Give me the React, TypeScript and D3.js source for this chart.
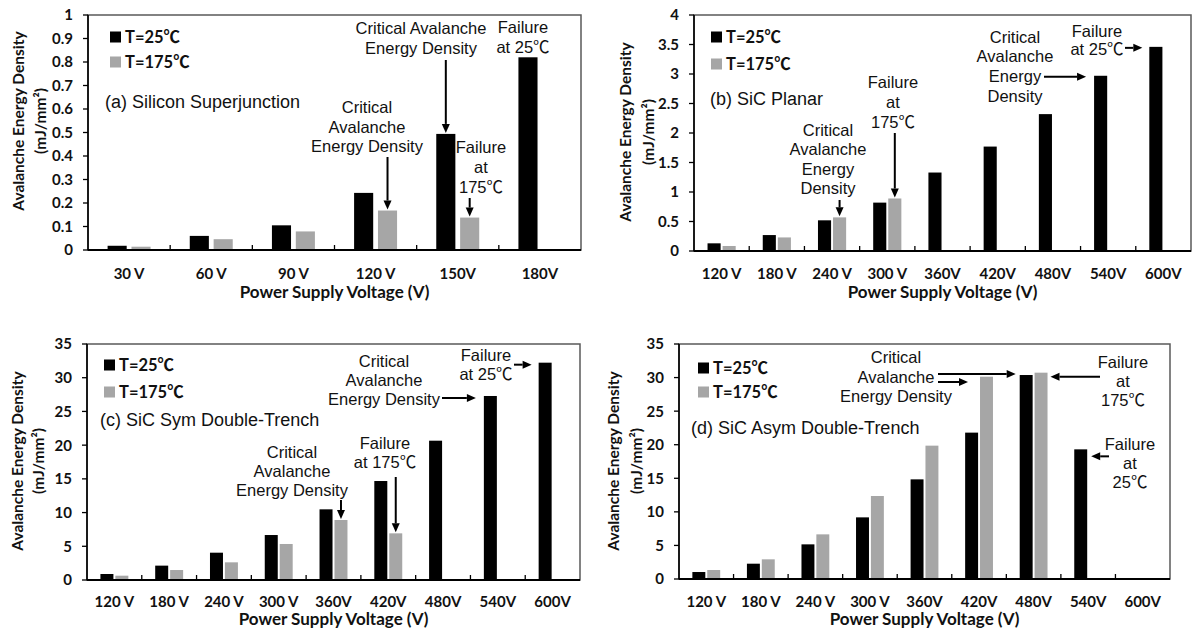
import React from 'react';
import * as d3 from 'd3';

// categories
const catsSi = ['30 V', '60 V', '90 V', '120 V', '150V', '180V'];
const catsSiC = ['120 V', '180 V', '240 V', '300 V', '360V', '420V', '480V', '540V', '600V'];

// (a) Silicon Superjunction, mJ/mm2
const siT25 = [0.018, 0.06, 0.105, 0.243, 0.494, 0.82];
const siT175 = [0.014, 0.046, 0.079, 0.168, 0.138, null];
// (b) SiC Planar
const planarT25 = [0.13, 0.27, 0.52, 0.82, 1.33, 1.77, 2.32, 2.97, 3.46];
const planarT175 = [0.085, 0.23, 0.57, 0.89, null, null, null, null, null];
// (c) SiC Sym Double-Trench
const symT25 = [0.89, 2.13, 4.05, 6.67, 10.48, 14.68, 20.66, 27.29, 32.23];
const symT175 = [0.64, 1.48, 2.62, 5.34, 8.9, 6.92, null, null, null];
// (d) SiC Asym Double-Trench
const asymT25 = [1.04, 2.28, 5.16, 9.18, 14.84, 21.8, 30.38, 19.31, null];
const asymT175 = [1.34, 2.93, 6.65, 12.36, 19.86, 30.13, 30.73, null, null];

// y tick labels
const ticksSi = [0, 0.1, 0.2, 0.3, 0.4, 0.5, 0.6, 0.7, 0.8, 0.9, 1];
const ticksPlanar = [0, 0.5, 1, 1.5, 2, 2.5, 3, 3.5, 4];
const ticksTrench = [0, 5, 10, 15, 20, 25, 30, 35];

const seriesNames = ['T=25℃', 'T=175℃'];
const colors = ['#000000', '#a6a6a6'];

const tickFont = "Lato, 'Noto Sans CJK SC', sans-serif";
const noteFont = "'Liberation Sans', Arial, 'Noto Sans CJK SC', sans-serif";

function Arrow({ x1, y1, x2, y2 }) {
    const ang = Math.atan2(y2 - y1, x2 - x1);
    const L = 9, W = 4;
    const bx = x2 - L * Math.cos(ang), by = y2 - L * Math.sin(ang);
    const px = -Math.sin(ang) * W, py = Math.cos(ang) * W;
    return (
        <g>
            <line x1={x1} y1={y1} x2={bx} y2={by} stroke="#000" strokeWidth={2} />
            <path d={`M${x2},${y2}L${bx + px},${by + py}L${bx - px},${by - py}Z`} fill="#000" />
        </g>
    );
}

function Note({ lines, cx, ys, size = 16.5 }) {
    return (
        <g>
            {lines.map((t, i) => (
                <text key={i} x={cx} y={ys[i]} dy="0.35em" textAnchor="middle"
                    fontFamily={noteFont} fontSize={size} fill="#111">{t}</text>
            ))}
        </g>
    );
}

function Panel({ cfg }) {
    const { cats, s25, s175, left, right, top, zero, max, ticks } = cfg;
    const x = d3.scaleBand().domain(cats).range([left, right]).padding(0);
    const groupW = x.bandwidth() * cfg.groupFrac;
    const sub = d3.scaleBand().domain(['t25', 't175']).range([0, groupW]).paddingInner(cfg.gap);
    const y = d3.scaleLinear().domain([0, max]).range([zero, top]);

    const bar = (i, s) => {
        const l = x(cats[i]) + (x.bandwidth() - groupW) / 2 + sub(s);
        const v = s === 't25' ? s25[i] : s175[i];
        return { l, r: l + sub.bandwidth(), cx: l + sub.bandwidth() / 2, top: y(v || 0) };
    };

    const fmt = (t) => String(t);

    return (
        <g>
            {/* frame */}
            <rect x={left} y={top} width={right - left} height={zero - top}
                fill="none" stroke="#595959" strokeWidth={1.5} />

            {/* bars */}
            {cats.map((c, i) => (
                <g key={c}>
                    {s25[i] != null && (
                        <rect x={bar(i, 't25').l} y={y(s25[i])} width={sub.bandwidth()}
                            height={zero - y(s25[i])} fill={colors[0]} />
                    )}
                    {s175[i] != null && (
                        <rect x={bar(i, 't175').l} y={y(s175[i])} width={sub.bandwidth()}
                            height={zero - y(s175[i])} fill={colors[1]} />
                    )}
                </g>
            ))}

            {/* axes */}
            <line x1={left} x2={left} y1={top} y2={zero} stroke="#000" strokeWidth={1.6} />
            <line x1={left} x2={right} y1={zero} y2={zero} stroke="#000" strokeWidth={1.8} />
            {ticks.map(t => (
                <g key={t}>
                    <line x1={left - 5} x2={left} y1={y(t)} y2={y(t)} stroke="#000" strokeWidth={1.3} />
                    <text x={left - 15} y={y(t)} dy="0.36em" textAnchor="end" fontFamily={tickFont}
                        fontWeight="bold" fontSize={15} fill="#111">{fmt(t)}</text>
                </g>
            ))}
            {cats.slice(1).map(c => (
                <line key={c} x1={x(c)} x2={x(c)} y1={zero} y2={zero - 5} stroke="#000" strokeWidth={1.3} />
            ))}
            {cats.map(c => (
                <text key={c} x={x(c) + x.bandwidth() / 2} y={cfg.catY} dy="0.36em" textAnchor="middle"
                    fontFamily={tickFont} fontWeight="bold" fontSize={15} fill="#111">{c}</text>
            ))}
            <text x={(left + right) / 2} y={cfg.titleY} dy="0.36em" textAnchor="middle"
                fontFamily={tickFont} fontWeight="bold" fontSize={17} fill="#111">
                Power Supply Voltage (V)
            </text>
            <g transform={`translate(${cfg.ylabX[0]},${cfg.ylabY}) rotate(-90)`}>
                <text dy="0.36em" textAnchor="middle" fontFamily={tickFont} fontWeight="bold" fontSize={15.5} fill="#111">
                    Avalanche Energy Density
                </text>
            </g>
            <g transform={`translate(${cfg.ylabX[1]},${cfg.ylabY}) rotate(-90)`}>
                <text dy="0.36em" textAnchor="middle" fontFamily={tickFont} fontWeight="bold" fontSize={15.5} fill="#111">
                    (mJ/mm²)
                </text>
            </g>

            {/* legend */}
            {seriesNames.map((n, i) => (
                <g key={n}>
                    <rect x={cfg.legX} y={cfg.legY[i] - 5.5} width={11} height={11} fill={colors[i]} />
                    <text x={cfg.legX + 15} y={cfg.legY[i]} dy="0.36em" fontFamily={tickFont}
                        fontWeight="bold" fontSize={16.5} fill="#111">{n}</text>
                </g>
            ))}
            <text x={cfg.nameX} y={cfg.nameY} dy="0.36em" fontFamily={noteFont} fontSize={18} fill="#111">
                {cfg.name}
            </text>

            {cfg.notes(bar, y)}
        </g>
    );
}

const panels = [
    {
        name: '(a) Silicon Superjunction', cats: catsSi, s25: siT25, s175: siT175, ticks: ticksSi, max: 1,
        left: 88, right: 581, top: 15, zero: 250, groupFrac: 0.523, gap: 0.2,
        catY: 274, titleY: 292, ylabX: [18, 40], ylabY: 121, legX: 110, legY: [37, 62],
        nameX: 105, nameY: 102,
        notes: (bar) => (
            <g>
                <Note lines={['Critical', 'Avalanche', 'Energy Density']} cx={367} ys={[107, 127, 146]} />
                <Arrow x1={bar(3, 't175').cx} y1={157} x2={bar(3, 't175').cx} y2={bar(3, 't175').top - 1} />
                <Note lines={['Critical Avalanche', 'Energy Density']} cx={421} ys={[28, 48]} />
                <Arrow x1={bar(4, 't25').cx} y1={60} x2={bar(4, 't25').cx} y2={bar(4, 't25').top - 1} />
                <Note lines={['Failure', 'at', '175℃']} cx={481} ys={[147, 167, 187]} />
                <Arrow x1={bar(4, 't175').cx} y1={198} x2={bar(4, 't175').cx} y2={bar(4, 't175').top - 1} />
                <Note lines={['Failure', 'at 25℃']} cx={523} ys={[27, 47]} />
            </g>
        ),
    },
    {
        name: '(b) SiC Planar', cats: catsSiC, s25: planarT25, s175: planarT175, ticks: ticksPlanar, max: 4,
        left: 694, right: 1191, top: 15, zero: 251, groupFrac: 0.51, gap: 0.13,
        catY: 274, titleY: 292, ylabX: [625, 648], ylabY: 132, legX: 711, legY: [37, 64],
        nameX: 710, nameY: 99,
        notes: (bar) => (
            <g>
                <Note lines={['Critical', 'Avalanche', 'Energy', 'Density']} cx={828} ys={[130, 149, 169, 188]} />
                <Arrow x1={bar(2, 't175').cx} y1={200} x2={bar(2, 't175').cx} y2={bar(2, 't175').top - 1} />
                <Note lines={['Failure', 'at', '175℃']} cx={893} ys={[82, 102, 122]} />
                <Arrow x1={bar(3, 't175').cx} y1={133} x2={bar(3, 't175').cx} y2={bar(3, 't175').top - 1} />
                <Note lines={['Critical', 'Avalanche', 'Energy', 'Density']} cx={1015} ys={[37, 56, 76, 96]} />
                <Arrow x1={1044} y1={bar(7, 't25').top + 1} x2={bar(7, 't25').l - 8} y2={bar(7, 't25').top + 1} />
                <Note lines={['Failure', 'at 25℃']} cx={1097} ys={[31, 49]} />
                <Arrow x1={1125} y1={bar(8, 't25').top + 1} x2={bar(8, 't25').l - 7} y2={bar(8, 't25').top + 1} />
            </g>
        ),
    },
    {
        name: '(c) SiC Sym Double-Trench', cats: catsSiC, s25: symT25, s175: symT175, ticks: ticksTrench, max: 35,
        left: 87, right: 580, top: 344, zero: 580, groupFrac: 0.51, gap: 0.13,
        catY: 602, titleY: 619, ylabX: [17, 38], ylabY: 461, legX: 104, legY: [365, 392],
        nameX: 100, nameY: 420,
        notes: (bar) => (
            <g>
                <Note lines={['Critical', 'Avalanche', 'Energy Density']} cx={292} ys={[452, 471, 490]} />
                <Arrow x1={bar(4, 't175').cx} y1={500} x2={bar(4, 't175').cx} y2={bar(4, 't175').top - 1} />
                <Note lines={['Failure', 'at 175℃']} cx={385} ys={[443, 462]} />
                <Arrow x1={bar(5, 't175').cx} y1={477} x2={bar(5, 't175').cx} y2={bar(5, 't175').top - 1} />
                <Note lines={['Critical', 'Avalanche', 'Energy Density']} cx={384} ys={[361, 380, 399]} />
                <Arrow x1={442} y1={bar(7, 't25').top + 2} x2={bar(7, 't25').l - 8} y2={bar(7, 't25').top + 2} />
                <Note lines={['Failure', 'at 25℃']} cx={486} ys={[355, 374]} />
                <Arrow x1={514} y1={bar(8, 't25').top + 2} x2={bar(8, 't25').l - 7} y2={bar(8, 't25').top + 2} />
            </g>
        ),
    },
    {
        name: '(d) SiC Asym Double-Trench', cats: catsSiC, s25: asymT25, s175: asymT175, ticks: ticksTrench, max: 35,
        left: 679, right: 1170, top: 344, zero: 579, groupFrac: 0.51, gap: 0.13,
        catY: 602, titleY: 619, ylabX: [613, 636], ylabY: 461, legX: 698, legY: [368, 392],
        nameX: 691, nameY: 428,
        notes: (bar) => (
            <g>
                <Note lines={['Critical', 'Avalanche', 'Energy Density']} cx={896} ys={[357, 377, 396]} />
                <Arrow x1={938} y1={bar(6, 't25').top - 1} x2={bar(6, 't25').l - 4} y2={bar(6, 't25').top - 1} />
                <Arrow x1={938} y1={382} x2={bar(5, 't175').l - 12} y2={382} />
                <Note lines={['Failure', 'at', '175℃']} cx={1123} ys={[362, 381, 400]} />
                <Arrow x1={1100} y1={bar(6, 't175').top + 4} x2={bar(6, 't175').r + 3} y2={bar(6, 't175').top + 4} />
                <Note lines={['Failure', 'at', '25℃']} cx={1130} ys={[444, 463, 482]} />
                <Arrow x1={1109} y1={bar(7, 't25').top + 7} x2={bar(7, 't25').r + 4} y2={bar(7, 't25').top + 7} />
            </g>
        ),
    },
];

export default function App() {
    return (
        <svg width={1192} height={633} style={{ position: 'absolute', left: 0, top: 0, background: '#fff' }}>
            {panels.map(p => <Panel key={p.name} cfg={p} />)}
        </svg>
    );
}
